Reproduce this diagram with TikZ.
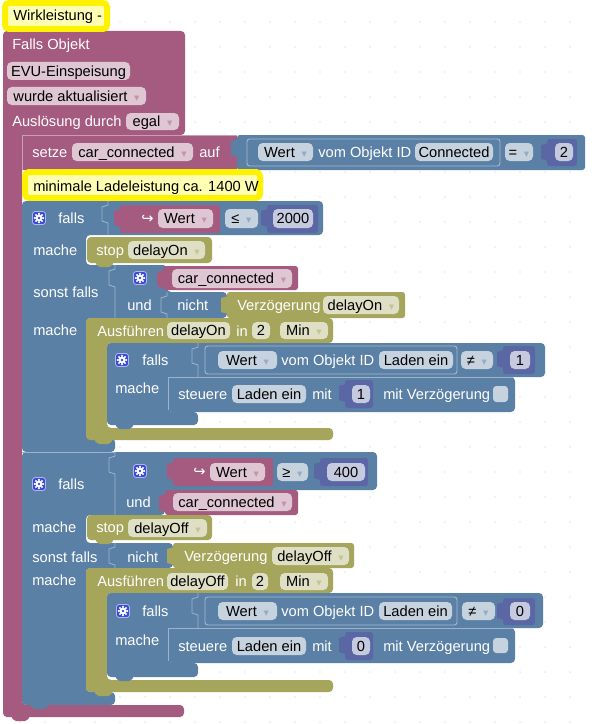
\documentclass[tikz,border=0pt]{standalone}
\usepackage{fontspec}
\setmainfont{Liberation Sans}
\newfontfamily\djv{DejaVu Sans}
\definecolor{evt}{HTML}{A55B80}
\definecolor{lgc}{HTML}{5B80A5}
\definecolor{tmo}{HTML}{A5A55B}
\definecolor{mth}{HTML}{5B67A5}
\definecolor{gearbg}{HTML}{3A4BD6}
\definecolor{cmt}{HTML}{FFFFB4}
\newcounter{lbl}
\def\ddcol{gray}
\newcommand\dd{\hspace{5pt}{\djv\fontsize{8}{8}\selectfont\color{\ddcol}▾}}
\newcommand\txt[3]{\stepcounter{lbl}\node[anchor=base west, text=white] (lbl\arabic{lbl}) at ({#1},{#2+5}) {#3};}
\newcommand\pill[6]{\fill[#5!35!white, rounded corners=3.5pt] (#1,#2) rectangle (#3,#4);
  \def\ddcol{#5!65!white}%
  \stepcounter{lbl}\node[anchor=base, text=black] (lbl\arabic{lbl}) at ({(#1+#3)/2},{(#2+#4)/2+5}) {#6};}
\newcommand\tab[3]{\fill[#3] ({#1+1},{#2+4}) -- ({#1-6},{#2+6}) -- ({#1-6},{#2+20}) -- ({#1+1},{#2+22}) -- cycle;}
\newcommand\bump[3]{\fill[#3, rounded corners=1.5pt] ({#1+8},{#2-1}) -- ({#1+11},{#2+4}) -- ({#1+24},{#2+4}) -- ({#1+27},{#2-1}) -- cycle;}
\newcommand\rim[3]{\draw[lgc!60!white, line width=0.6pt] (#1,#2) -- (#1,{#2+4}) -- ({#1-6},{#2+6}) -- ({#1-6},{#2+20}) -- (#1,{#2+22}) -- (#1,#3);}
\newcommand\gear[2]{\fill[gearbg, rounded corners=2pt] ({#1-6.5},{#2-6.5}) rectangle ({#1+6.5},{#2+6.5});
  \draw[white!60!gearbg, line width=0.6pt, rounded corners=2pt] ({#1-6.5},{#2-6.5}) rectangle ({#1+6.5},{#2+6.5});
  \begin{scope}[shift={(#1,#2)}]
    \foreach \a in {0,45,...,315} \fill[white] (\a:3.1pt) circle (0.9pt);
    \fill[white] (0,0) circle (2.6pt); \fill[gearbg] (0,0) circle (1.1pt);
  \end{scope}}
\newcommand\objblock[6]{\draw[lgc!55!white, line width=0.7pt, rounded corners=2pt] (#1,#2) rectangle (#3,#4);
  \pill{#1+13}{#2+5}{#1+72}{#2+23}{lgc}{Wert\dd}
  \txt{#1+76}{#2+14}{vom Objekt ID}
  \pill{#1+174}{#2+5}{#5}{#2+23}{lgc}{#6}}

\begin{document}
\begin{tikzpicture}[x=0.75pt, y=-0.75pt, every node/.style={inner sep=0pt, font=\fontsize{11}{13}\selectfont}]
  \useasboundingbox (0,0) rectangle (593,724);
  \fill[white] (0,0) rectangle (593,724);
  \foreach \i in {0,...,23} \foreach \j in {0,...,28} \fill[black!22] ({20+25*\i},{22+25*\j}) circle (0.55pt);

  \fill[evt, rounded corners=3pt] (3,31) -- (185,31) -- (185,135) -- (22,135) -- (22,705) -- (184,705) -- (184,717) -- (3,717) -- cycle;
  \bump{3}{717}{evt}
  \txt{12}{45}{Falls Objekt}
  \pill{7}{62}{130}{80}{evt}{EVU-Einspeisung}
  \pill{7}{87}{146}{105}{evt}{wurde aktualisiert\dd}
  \txt{12}{121}{Auslösung durch}
  \pill{126}{113}{179}{130}{evt}{egal\dd}

  \draw[yellow, line width=4.5pt, fill=cmt, rounded corners=3pt] (5,3) rectangle (107,29);
  \node[anchor=base west] (cmtA) at (13,21) {Wirkleistung -};

  \fill[evt] (22,135) rectangle (237,170);
  \draw[evt!60!white, line width=0.6pt] (22,170) -- (22,135) -- (237,135);
  \txt{32}{152}{setze}
  \pill{72}{143}{193}{161}{evt}{car\_connected\dd}
  \txt{199}{152}{auf}
  \fill[lgc, rounded corners=2pt] (237,135) rectangle (585,170);
  \tab{237}{135}{lgc}
  \draw[lgc!55!white, line width=0.7pt, rounded corners=2pt] (247,139) rectangle (500,166);
  \pill{258}{143}{313}{161}{lgc}{Wert\dd}
  \txt{318}{152}{vom Objekt ID}
  \pill{415}{143}{493}{161}{lgc}{Connected}
  \pill{505}{143}{533}{161}{lgc}{=\dd}
  \fill[mth, rounded corners=2pt] (547,139) rectangle (577,166);
  \tab{547}{139}{mth}
  \pill{555}{143}{573}{161}{mth}{2}

  \draw[yellow, line width=4.5pt, fill=cmt, rounded corners=3pt] (25,172) rectangle (260,198);
  \node[anchor=base west] (cmtB) at (33,191) {minimale Ladeleistung ca. 1400 W};

  \fill[lgc, rounded corners=3pt] (22,201) -- (323,201) -- (323,235) -- (86,235) -- (86,265) -- (167,265) -- (167,292) -- (227,292) -- (227,318) -- (86,318) -- (86,438) -- (115,438) -- (115,452) -- (22,452) -- cycle;
  \rim{108}{201}{235}
  \rim{115}{265}{318}
  \rim{167}{292}{318}
  \gear{39}{218}
  \txt{58}{218}{falls}
  \fill[evt, rounded corners=2pt] (120,205) rectangle (220,233);
  \tab{120}{205}{evt}
  \txt{141}{218}{{\djv ↪}}
  \pill{158}{209}{213}{228}{evt}{Wert\dd}
  \pill{225}{209}{258}{228}{lgc}{≤\dd}
  \fill[mth, rounded corners=2pt] (267,205) rectangle (318,233);
  \tab{267}{205}{mth}
  \pill{273}{209}{313}{228}{mth}{2000}
  \txt{33}{250}{mache}
  \fill[tmo, rounded corners=3pt] (87,237) rectangle (212,263);
  \bump{87}{263}{tmo}
  \txt{96}{250}{stop}
  \pill{128}{241}{205}{259}{tmo}{delayOn\dd}
  \txt{33}{292}{sonst falls}
  \gear{140}{278}
  \txt{127}{305}{und}
  \fill[evt, rounded corners=2pt] (163,266) rectangle (298,290);
  \tab{163}{266}{evt}
  \pill{172}{269}{292}{288}{evt}{car\_connected\dd}
  \txt{177}{305}{nicht}
  \fill[tmo, rounded corners=2pt] (227,292) rectangle (405,318);
  \tab{227}{292}{tmo}
  \txt{237}{305}{Verzögerung}
  \pill{323}{296}{399}{314}{tmo}{delayOn\dd}
  \txt{33}{330}{mache}
  \fill[tmo, rounded corners=3pt] (86,318) -- (333,318) -- (333,343) -- (107,343) -- (107,428) -- (333,428) -- (333,440) -- (86,440) -- cycle;
  \txt{97}{331}{Ausführen}
  \pill{167}{322}{230}{339}{tmo}{delayOn}
  \txt{236}{331}{in}
  \pill{252}{322}{270}{339}{tmo}{2}
  \pill{280}{322}{328}{339}{tmo}{Min\dd}
  \fill[lgc, rounded corners=3pt] (107,343) -- (545,343) -- (545,377) -- (168,377) -- (168,412) -- (198,412) -- (198,425) -- (107,425) -- cycle;
  \gear{122}{360}
  \txt{142}{360}{falls}
  \rim{198}{343}{377}
  \objblock{205}{346}{457}{374}{453}{Laden ein}
  \pill{461}{351}{493}{369}{lgc}{≠\dd}
  \fill[mth, rounded corners=2pt] (503,346) rectangle (535,374);
  \tab{503}{346}{mth}
  \pill{510}{351}{530}{369}{mth}{1}
  \txt{115}{388}{mache}
  \fill[lgc, rounded corners=3pt] (168,377) rectangle (515,412);
  \draw[lgc!60!white, line width=0.6pt] (168,410) -- (168,377) -- (513,377);
  \bump{168}{412}{lgc}
  \txt{178}{394}{steuere}
  \pill{232}{385}{306}{403}{lgc}{Laden ein}
  \txt{312}{394}{mit}
  \fill[mth, rounded corners=2pt] (345,380) rectangle (373,408);
  \tab{345}{380}{mth}
  \pill{352}{385}{370}{403}{mth}{1}
  \txt{383}{394}{mit Verzögerung}
  \fill[lgc!35!white, rounded corners=2.5pt] (493,386) rectangle (508,402);
  \bump{107}{425}{lgc}
  \bump{86}{440}{tmo}

  \fill[lgc, rounded corners=3pt] (22,452) -- (377,452) -- (377,490) -- (165,490) -- (165,515) -- (86,515) -- (86,543) -- (173,543) -- (173,568) -- (86,568) -- (86,692) -- (115,692) -- (115,705) -- (22,705) -- cycle;
  \draw[lgc!60!white, line width=0.6pt] (22,452) -- (115,452);
  \rim{115}{452}{515}
  \rim{115}{543}{568}
  \gear{39}{484}
  \txt{58}{484}{falls}
  \gear{140}{471}
  \fill[evt, rounded corners=2pt] (173,458) rectangle (273,486);
  \tab{173}{458}{evt}
  \txt{193}{471}{{\djv ↪}}
  \pill{210}{463}{265}{481}{evt}{Wert\dd}
  \pill{277}{463}{308}{481}{lgc}{≥\dd}
  \fill[mth, rounded corners=2pt] (320,458) rectangle (368,486);
  \tab{320}{458}{mth}
  \pill{327}{463}{365}{481}{mth}{400}
  \txt{126}{502}{und}
  \fill[evt, rounded corners=2pt] (165,490) rectangle (298,515);
  \tab{165}{490}{evt}
  \pill{173}{493}{292}{511}{evt}{car\_connected\dd}
  \txt{32}{527}{mache}
  \fill[tmo, rounded corners=3pt] (87,515) rectangle (212,540);
  \bump{87}{540}{tmo}
  \txt{96}{527}{stop}
  \pill{128}{519}{207}{537}{tmo}{delayOff\dd}
  \txt{32}{557}{sonst falls}
  \txt{127}{557}{nicht}
  \fill[tmo, rounded corners=2pt] (173,543) rectangle (354,568);
  \tab{173}{543}{tmo}
  \txt{184}{556}{Verzögerung}
  \pill{272}{547}{349}{565}{tmo}{delayOff\dd}
  \txt{32}{580}{mache}
  \fill[tmo, rounded corners=3pt] (86,568) -- (333,568) -- (333,593) -- (107,593) -- (107,680) -- (333,680) -- (333,692) -- (86,692) -- cycle;
  \txt{97}{581}{Ausführen}
  \pill{167}{573}{228}{590}{tmo}{delayOff}
  \txt{235}{581}{in}
  \pill{252}{573}{268}{590}{tmo}{2}
  \pill{280}{573}{328}{590}{tmo}{Min\dd}
  \fill[lgc, rounded corners=3pt] (107,593) -- (543,593) -- (543,628) -- (168,628) -- (168,663) -- (198,663) -- (198,677) -- (107,677) -- cycle;
  \gear{123}{611}
  \txt{142}{611}{falls}
  \rim{198}{593}{628}
  \objblock{205}{597}{457}{625}{452}{Laden ein}
  \pill{462}{602}{495}{620}{lgc}{≠\dd}
  \fill[mth, rounded corners=2pt] (503,598) rectangle (535,625);
  \tab{503}{598}{mth}
  \pill{510}{602}{530}{620}{mth}{0}
  \txt{115}{640}{mache}
  \fill[lgc, rounded corners=3pt] (168,628) rectangle (515,663);
  \draw[lgc!60!white, line width=0.6pt] (168,661) -- (168,628) -- (513,628);
  \bump{168}{663}{lgc}
  \txt{178}{646}{steuere}
  \pill{232}{637}{306}{655}{lgc}{Laden ein}
  \txt{312}{646}{mit}
  \fill[mth, rounded corners=2pt] (345,632) rectangle (373,660);
  \tab{345}{632}{mth}
  \pill{352}{637}{370}{655}{mth}{0}
  \txt{383}{646}{mit Verzögerung}
  \fill[lgc!35!white, rounded corners=2.5pt] (493,638) rectangle (508,653);
  \bump{107}{677}{lgc}
  \bump{86}{692}{tmo}
  \bump{22}{705}{lgc}
\end{tikzpicture}
\end{document}
